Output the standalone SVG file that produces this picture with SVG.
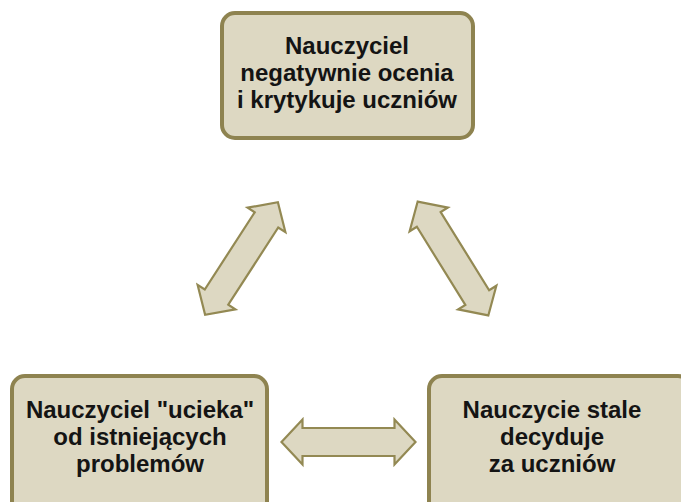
<svg xmlns="http://www.w3.org/2000/svg" width="681" height="502" viewBox="0 0 681 502">
<defs>
<style>
.box{fill:#ddd8c2;stroke:#8e8350;stroke-width:4}
.arr{fill:#ddd8c2;stroke:#938953;stroke-width:2.2;stroke-linejoin:miter}
.t{font-family:"Liberation Sans",Arial,sans-serif;font-weight:bold;font-size:24px;fill:#141414;text-anchor:middle}
</style>
<path id="dbl" d="M-67,0 L-46,-22.5 L-46,-14 L46,-14 L46,-22.5 L67,0 L46,22.5 L46,14 L-46,14 L-46,22.5 Z"/>
</defs>
<rect width="681" height="502" fill="#ffffff"/>
<g id="connectors">
<use href="#dbl" class="arr" transform="translate(241.5,258.5) rotate(-57.1)"/>
<use href="#dbl" class="arr" transform="translate(453,258.5) rotate(58.2)"/>
<use href="#dbl" class="arr" transform="translate(348.5,442)"/>
</g>
<g id="node-top">
<rect class="box" x="222" y="13" width="251" height="125" rx="13"/>
<text class="t" x="347" y="54">Nauczyciel</text>
<text class="t" x="347" y="81">negatywnie ocenia</text>
<text class="t" x="347" y="108">i krytykuje uczniów</text>
</g>
<g id="node-left">
<rect class="box" x="12" y="376" width="255" height="140" rx="13"/>
<text class="t" x="140" y="418">Nauczyciel "ucieka"</text>
<text class="t" x="140" y="445">od istniejących</text>
<text class="t" x="140" y="472">problemów</text>
</g>
<g id="node-right">
<rect class="box" x="429" y="376" width="262" height="140" rx="13"/>
<text class="t" x="552" y="418">Nauczycie stale</text>
<text class="t" x="552" y="445">decyduje</text>
<text class="t" x="552" y="472">za uczniów</text>
</g>
</svg>
